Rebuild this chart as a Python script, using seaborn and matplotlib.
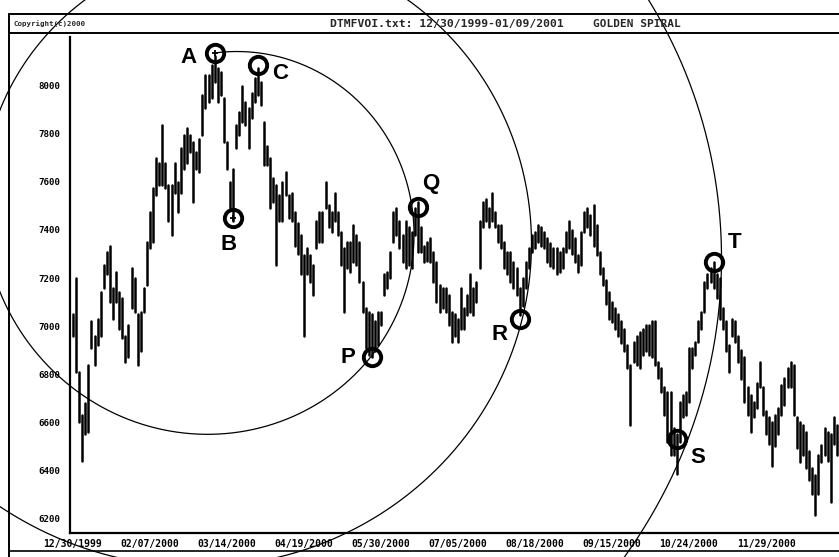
import numpy as np
import pandas as pd
import matplotlib
matplotlib.use("Agg")
import matplotlib.pyplot as plt
import seaborn as sns

# ---------------- data ----------------
highs = [7050, 7200, 6810, 6630, 6680, 6840, 7020, 6960, 7030, 7140, 7255, 7310, 7335, 7160, 7225, 7140,
         7115, 6960, 7005, 7240, 7200, 7050, 7060, 7160, 7350, 7475, 7575, 7700, 7680, 7835, 7680, 7585,
         7585, 7680, 7600, 7740, 7795, 7825, 7795, 7765, 7725, 7780, 7960, 8045, 8045, 8085, 8125, 8075,
         8055, 7950, 7765, 7600, 7655, 7835, 7890, 8000, 7930, 7905, 7970, 8030, 8075, 8015, 7850,
         7750, 7700, 7615, 7585, 7545, 7600, 7640, 7545, 7555, 7475, 7430,
         7380, 7295, 7325, 7295, 7255, 7435, 7475, 7475, 7600, 7505, 7475, 7555, 7475, 7390, 7325, 7350,
         7350, 7420, 7380, 7350, 7185, 7075, 7060, 7050, 7020, 7060, 7060, 7215, 7225, 7310, 7475, 7490,
         7435, 7380, 7435, 7410, 7390, 7490, 7515, 7410, 7335, 7350,
         7365, 7310, 7265, 7170, 7160, 7160, 7130, 7060, 7050,
         7030, 7160, 7075, 7130, 7215, 7160, 7185, 7435, 7515, 7530, 7490, 7555, 7475, 7420, 7420, 7350,
         7310, 7310, 7265, 7240, 7160, 7200, 7265, 7325, 7380, 7390, 7420, 7410, 7390, 7365, 7345,
         7325, 7325, 7310, 7325, 7390, 7435, 7400,
         7365, 7295, 7390, 7475, 7490, 7460, 7505, 7420, 7310, 7240, 7190,
         7140, 7100, 7075, 7050, 7020,
         6990, 6920, 6840, 6935, 6960, 6975, 6990, 7005,
         7005, 7020, 7020, 6850, 6825, 6745, 6725, 6725, 6575, 6550, 6685, 6715, 6725, 6910, 6910, 6935,
         7020, 7060, 7185, 7215, 7240, 7265, 7215, 7200, 7075, 7020, 6920, 7030, 7020, 6960, 6900,
         6870, 6745, 6715, 6685, 6765, 6850, 6745, 6645, 6620, 6600, 6630,
         6660, 6755, 6785, 6825, 6850, 6840, 6620, 6600, 6590, 6560, 6480,
         6410, 6380, 6465, 6505, 6575, 6560,
         6550, 6620, 6590, 6620]

lows = [6960, 6810, 6600, 6440, 6550, 6560, 6910, 6840, 6920, 6960, 7160, 7215, 7100, 7030, 7100, 6990,
        6950, 6850, 6870, 7075, 7060, 6840, 6895, 7060, 7170, 7325, 7350, 7545, 7585, 7585, 7575, 7435,
        7380, 7555, 7475, 7555, 7655, 7680, 7725, 7515, 7655, 7640, 7795, 7905, 7930, 7950, 8015, 7930,
        7960, 7765, 7655, 7490, 7435, 7740, 7795, 7850, 7835, 7740, 7865, 7930, 7960, 7920, 7670,
        7670, 7490, 7515, 7255, 7435, 7435, 7545, 7450, 7435, 7335, 7300,
        7215, 6960, 7215, 7185, 7130, 7325, 7350, 7350, 7490, 7410, 7390, 7435, 7380, 7255, 7060, 7240,
        7225, 7265, 7255, 7185, 7060, 6910, 6880, 6870, 6895, 6920, 7005, 7130, 7160, 7200, 7350, 7380,
        7325, 7265, 7240, 7255, 7240, 7380, 7310, 7310, 7265, 7270,
        7265, 7185, 7100, 7060, 7075, 7060, 7005, 6935, 6960,
        6935, 6990, 6990, 7045, 7060, 7045, 7100, 7240, 7410, 7435, 7410, 7435, 7410, 7350, 7325, 7240,
        7215, 7185, 7160, 7130, 7045, 7085, 7160, 7240, 7310, 7325, 7350, 7335, 7325, 7265, 7250,
        7240, 7215, 7225, 7240, 7310, 7325, 7300,
        7265, 7225, 7255, 7390, 7410, 7380, 7335, 7295, 7215, 7170, 7090,
        7030, 7015, 6990, 6960, 6930,
        6895, 6825, 6590, 6850, 6840, 6825, 6880, 6895,
        6880, 6870, 6840, 6785, 6725, 6630, 6520, 6465, 6465, 6385, 6520, 6620, 6630, 6685, 6825, 6880,
        6935, 6990, 7060, 7160, 7185, 7160, 7115, 7030, 6990, 6895, 6810, 6960, 6935, 6850, 6780,
        6685, 6630, 6560, 6620, 6660, 6745, 6630, 6550, 6510, 6420, 6500,
        6550, 6630, 6670, 6745, 6745, 6630, 6495, 6435, 6465, 6410, 6360,
        6300, 6215, 6300, 6435, 6465, 6440,
        6270, 6510, 6465, 6510]

tick_labels = ["12/30/1999", "02/07/2000", "03/14/2000", "04/19/2000", "05/30/2000",
               "07/05/2000", "08/18/2000", "09/15/2000", "10/24/2000", "11/29/2000"]
bars_per_tick = 25
y_ticks = [6200, 6400, 6600, 6800, 7000, 7200, 7400, 7600, 7800, 8000]

point_labels = ["A", "B", "C", "P", "Q", "R", "S", "T"]
point_bar = [46, 52, 60, 97, 112, 145, 196, 208]
point_price = [8135, 7450, 8085, 6870, 7495, 7030, 6530, 7265]
point_plus = [True, True, False, False, False, False, False, False]
# label offsets in pixels (right, down)
label_dx = [-26, -5, 22, -24, 13, -20, 21, 21]
label_dy = [4, 27, 8, 0, -24, 16, 18, -20]

header_left = "Copyright(c)2000"
header_mid = "DTMFVOI.txt: 12/30/1999-01/09/2001"
header_right = "GOLDEN SPIRAL"

# ---------------- figure ----------------
W, H = 839, 557
sns.set_theme(style="white")
plt.rcParams["font.family"] = ["DejaVu Sans"]

fig = plt.figure(figsize=(W / 100, H / 100), dpi=100)
fig.patch.set_facecolor("white")

ax_left, ax_bottom, ax_top = 70, 533, 37
ax = fig.add_axes([ax_left / W, (H - ax_bottom) / H, (W - ax_left) / W, (ax_bottom - ax_top) / H])
ax.set_facecolor("white")

n = len(highs)
idx = np.arange(n)
df = pd.DataFrame({
    "bar": np.concatenate([idx, idx]),
    "price": np.concatenate([highs, lows]),
})
sns.lineplot(data=df, x="bar", y="price", units="bar", estimator=None,
             color="black", lw=1.8, ax=ax, legend=False, sort=False)

px_per_bar = 3.08
first_px = 73
ax.set_xlim(-(first_px - ax_left) / px_per_bar, (W - first_px) / px_per_bar)
px_per_val = 48.1 / 200
ax.set_ylim(8000 - (ax_bottom - 85.6) / px_per_val, 8000 + (85.6 - ax_top) / px_per_val)

ax.set_xticks([i * bars_per_tick for i in range(len(tick_labels))])
ax.set_xticklabels(tick_labels)
ax.set_yticks(y_ticks)
ax.set_yticklabels([str(v) for v in y_ticks])
ax.set_xlabel("")
ax.set_ylabel("")
for lab in ax.get_xticklabels() + ax.get_yticklabels():
    lab.set_fontfamily("DejaVu Sans Mono")
    lab.set_fontweight("bold")
for lab in ax.get_xticklabels():
    lab.set_fontsize(7.0)
for lab in ax.get_yticklabels():
    lab.set_fontsize(6.6)
ax.tick_params(axis="x", direction="in", length=3, width=1.2, pad=4, colors="black")
ax.tick_params(axis="y", direction="out", length=4, width=1.2, pad=3, colors="black")
for s in ["top", "right"]:
    ax.spines[s].set_visible(False)
for s in ["left", "bottom"]:
    ax.spines[s].set_linewidth(1.6)
    ax.spines[s].set_color("black")
ax.grid(False)

# marked points
for lab, b, p, plus, dx, dy in zip(point_labels, point_bar, point_price, point_plus, label_dx, label_dy):
    ax.plot([b], [p], marker="o", ms=12.5, mfc="none", mec="black", mew=2.8,
            clip_on=False, zorder=6)
    if plus:
        ax.plot([b], [p], marker="+", ms=5, mew=1.3, color="black", zorder=7)
    ax.annotate(lab, (b, p), xytext=(dx / 1.389, -dy / 1.389), textcoords="offset points",
                ha="center", va="center", fontsize=16, fontweight="bold",
                family=["Liberation Sans", "DejaVu Sans"], color="black", zorder=7)

# ---------------- overlay: spiral, frame, header ----------------
ov = fig.add_axes([0, 0, 1, 1], zorder=5)
ov.set_xlim(0, W)
ov.set_ylim(H, 0)
ov.axis("off")

phi = (1 + 5 ** 0.5) / 2
sp_cx, sp_cy, sp_r0 = 224, 220, 168
th = np.linspace(-0.05, 2.6 * 2 * np.pi, 3000)
r = sp_r0 * phi ** (th / (2 * np.pi))
ov.plot(sp_cx + r * np.sin(th), sp_cy - r * np.cos(th), color="black", lw=0.9)

ov.plot([9, 9], [14, H], color="black", lw=1.4)
ov.plot([9, W], [14, 14], color="black", lw=1.4)
ov.plot([9, W], [33, 33], color="black", lw=1.4)
ov.plot([9, W], [551, 551], color="black", lw=1.2)

ov.text(13, 24, header_left, ha="left", va="center", fontsize=5.4, fontweight="bold",
        family="DejaVu Sans Mono")
ov.text(330, 24, header_mid, ha="left", va="center", fontsize=8.2, fontweight="bold",
        family="DejaVu Sans Mono")
ov.text(593, 24, header_right, ha="left", va="center", fontsize=8.0, fontweight="bold",
        family="DejaVu Sans Mono")

fig.savefig("out.png", dpi=100, facecolor="white")
